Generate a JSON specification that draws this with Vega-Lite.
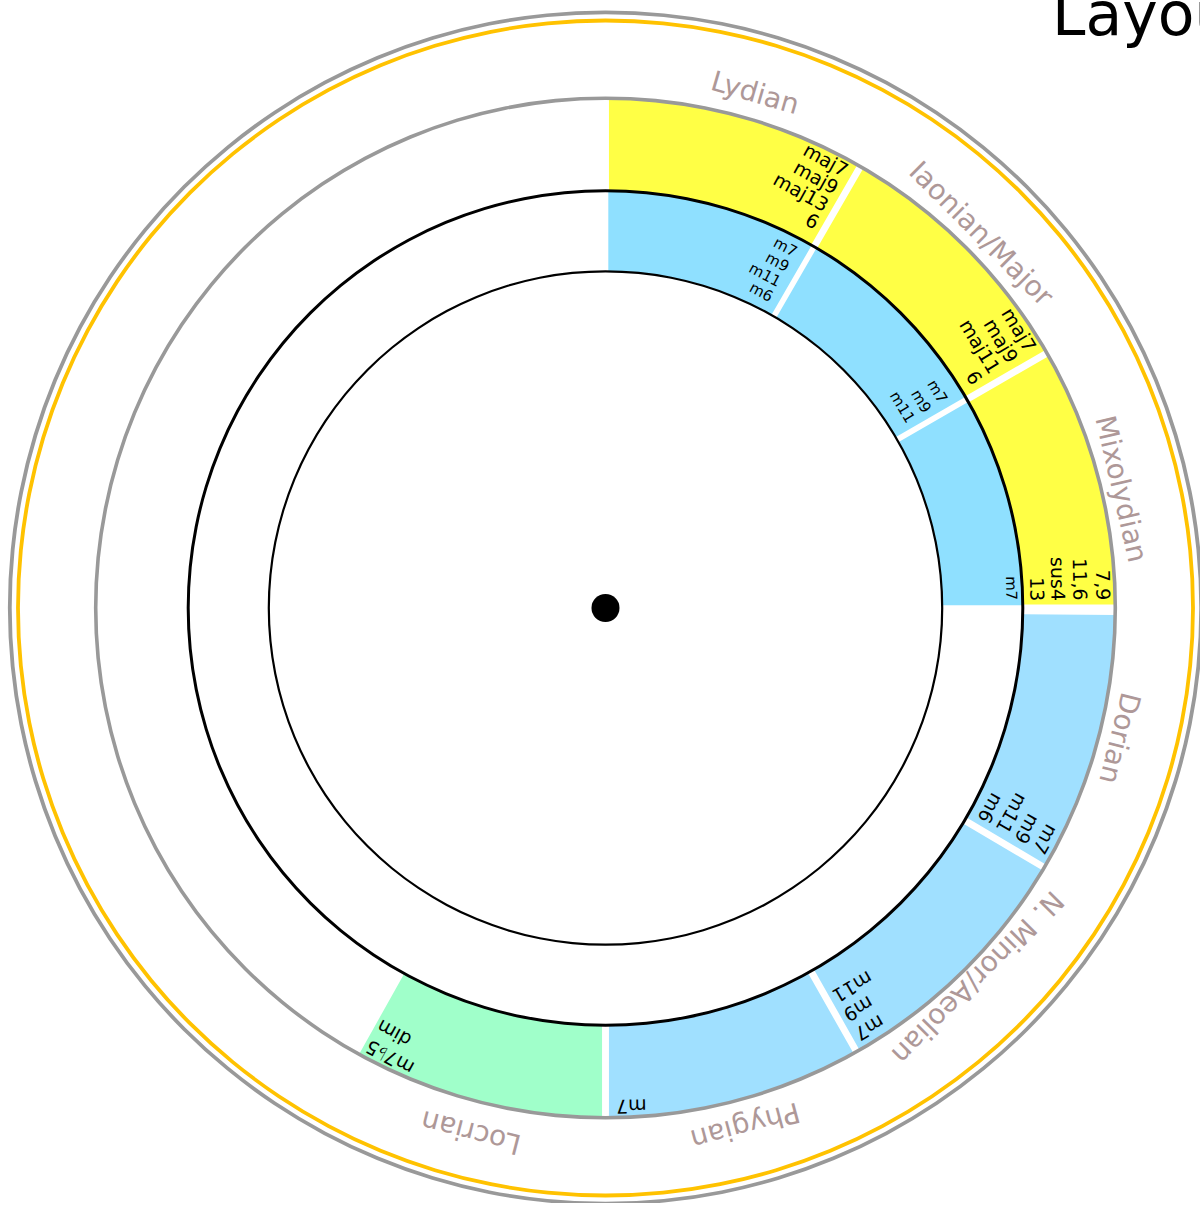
{
  "$schema": "https://vega.github.io/schema/vega-lite/v6.json",
  "width": 1191,
  "height": 1190,
  "autosize": "none",
  "padding": {"left": 10, "top": 13, "right": 0, "bottom": 0},
  "background": "white",
  "title": {
    "text": "Layout",
    "anchor": "start",
    "frame": "group",
    "orient": "top",
    "offset": 0,
    "dx": 1042,
    "dy": 84,
    "baseline": "alphabetic",
    "font": "DejaVu Sans",
    "fontSize": 60,
    "fontWeight": "normal",
    "color": "#000000"
  },
  "config": {"view": {"stroke": null}, "font": "DejaVu Sans"},
  "datasets": {
    "segments": [
      {"mode": "Lydian", "ring": "outer", "t0": 0, "t1": 30, "r0": 417, "r1": 510, "kind": "major"},
      {"mode": "Iaonian/Major", "ring": "outer", "t0": 30, "t1": 60, "r0": 417, "r1": 510, "kind": "major"},
      {"mode": "Mixolydian", "ring": "outer", "t0": 60, "t1": 90, "r0": 417, "r1": 510, "kind": "major"},
      {"mode": "Dorian", "ring": "outer", "t0": 90.4, "t1": 120.6, "r0": 417, "r1": 510, "kind": "minor"},
      {"mode": "N. Minor/Aeolian", "ring": "outer", "t0": 120.6, "t1": 150.5, "r0": 417, "r1": 510, "kind": "minor"},
      {"mode": "Phygian", "ring": "outer", "t0": 150.5, "t1": 180, "r0": 417, "r1": 510, "kind": "minor"},
      {"mode": "Locrian", "ring": "outer", "t0": 180, "t1": 209.3, "r0": 417, "r1": 510, "kind": "dim"},
      {"mode": "Lydian", "ring": "inner", "t0": 0, "t1": 30, "r0": 337, "r1": 417, "kind": "inner"},
      {"mode": "Iaonian/Major", "ring": "inner", "t0": 30, "t1": 60, "r0": 337, "r1": 417, "kind": "inner"},
      {"mode": "Mixolydian", "ring": "inner", "t0": 60, "t1": 90, "r0": 337, "r1": 417, "kind": "inner"}
    ],
    "rings": [
      {"name": "outer frame", "t0": 0, "t1": 360, "r0": 593.8, "r1": 597.4, "kind": "frame"},
      {"name": "accent", "t0": 0, "t1": 360, "r0": 585.6, "r1": 589.4, "kind": "accent"},
      {"name": "mode ring", "t0": 0, "t1": 360, "r0": 508, "r1": 511.6, "kind": "frame"},
      {"name": "middle", "t0": 0, "t1": 360, "r0": 415.8, "r1": 418.8, "kind": "line"},
      {"name": "inner", "t0": 0, "t1": 360, "r0": 335.6, "r1": 337.8, "kind": "line"},
      {"name": "hub", "t0": 0, "t1": 360, "r0": 0, "r1": 14, "kind": "line"}
    ],
    "chords": [
      {"mode": "Lydian", "ring": "outer", "label": "maj7", "theta": 28.9, "r": 498},
      {"mode": "Lydian", "ring": "outer", "label": "maj9", "theta": 28.9, "r": 478},
      {"mode": "Lydian", "ring": "outer", "label": "maj13", "theta": 28.9, "r": 458},
      {"mode": "Lydian", "ring": "outer", "label": "6", "theta": 28.9, "r": 438},
      {"mode": "Iaonian/Major", "ring": "outer", "label": "maj7", "theta": 58.8, "r": 497},
      {"mode": "Iaonian/Major", "ring": "outer", "label": "maj9", "theta": 58.8, "r": 476},
      {"mode": "Iaonian/Major", "ring": "outer", "label": "maj11", "theta": 58.8, "r": 455},
      {"mode": "Iaonian/Major", "ring": "outer", "label": "6", "theta": 58.8, "r": 434},
      {"mode": "Mixolydian", "ring": "outer", "label": "7,9", "theta": 89.1, "r": 497},
      {"mode": "Mixolydian", "ring": "outer", "label": "11,6", "theta": 89.1, "r": 474},
      {"mode": "Mixolydian", "ring": "outer", "label": "sus4", "theta": 89.1, "r": 452},
      {"mode": "Mixolydian", "ring": "outer", "label": "13", "theta": 89.1, "r": 431},
      {"mode": "Lydian", "ring": "inner", "label": "m7", "theta": 28.2, "r": 403},
      {"mode": "Lydian", "ring": "inner", "label": "m9", "theta": 28.2, "r": 386},
      {"mode": "Lydian", "ring": "inner", "label": "m11", "theta": 28.2, "r": 369},
      {"mode": "Lydian", "ring": "inner", "label": "m6", "theta": 28.2, "r": 352},
      {"mode": "Iaonian/Major", "ring": "inner", "label": "m7", "theta": 58.6, "r": 396},
      {"mode": "Iaonian/Major", "ring": "inner", "label": "m9", "theta": 58.6, "r": 377},
      {"mode": "Iaonian/Major", "ring": "inner", "label": "m11", "theta": 58.6, "r": 358},
      {"mode": "Mixolydian", "ring": "inner", "label": "m7", "theta": 88.9, "r": 406},
      {"mode": "Dorian", "ring": "outer", "label": "m7", "theta": 119.5, "r": 496},
      {"mode": "Dorian", "ring": "outer", "label": "m9", "theta": 119.5, "r": 475},
      {"mode": "Dorian", "ring": "outer", "label": "m11", "theta": 119.5, "r": 454},
      {"mode": "Dorian", "ring": "outer", "label": "m6", "theta": 119.5, "r": 433},
      {"mode": "N. Minor/Aeolian", "ring": "outer", "label": "m7", "theta": 149.6, "r": 495},
      {"mode": "N. Minor/Aeolian", "ring": "outer", "label": "m9", "theta": 149.6, "r": 473},
      {"mode": "N. Minor/Aeolian", "ring": "outer", "label": "m11", "theta": 149.6, "r": 451},
      {"mode": "Phygian", "ring": "outer", "label": "m7", "theta": 178.8, "r": 498},
      {"mode": "Locrian", "ring": "outer", "label": "m7♭5", "theta": 208.6, "r": 497},
      {"mode": "Locrian", "ring": "outer", "label": "dim", "theta": 208.6, "r": 474}
    ],
    "modes": [
      {"label": "Lydian", "theta": 16.2, "r": 535},
      {"label": "Iaonian/Major", "theta": 45.1, "r": 529},
      {"label": "Mixolydian", "theta": 77, "r": 528},
      {"label": "Dorian", "theta": 104.2, "r": 529},
      {"label": "N. Minor/Aeolian", "theta": 134.8, "r": 523},
      {"label": "Phygian", "theta": 164.9, "r": 535},
      {"label": "Locrian", "theta": 194.4, "r": 540}
    ]
  },
  "layer": [
    {
      "data": {"name": "segments"},
      "mark": {"type": "arc", "padAngle": 0.0105},
      "encoding": {
        "theta": {"field": "t0", "type": "quantitative", "stack": null, "scale": {"domain": [0, 360], "range": [0, 6.283185307179586]}},
        "theta2": {"field": "t1"},
        "radius": {"field": "r1", "type": "quantitative", "scale": {"type": "linear", "domain": [0, 595], "range": [0, 595], "zero": true, "nice": false}},
        "radius2": {"field": "r0"},
        "color": {"field": "kind", "type": "nominal", "legend": null, "scale": {"domain": ["major", "inner", "minor", "dim", "frame", "accent", "line"], "range": ["#ffff45", "#8fe0ff", "#a0e0ff", "#a0ffca", "#999999", "#ffc200", "#000000"]}}
      }
    },
    {
      "data": {"name": "rings"},
      "mark": {"type": "arc"},
      "encoding": {
        "theta": {"field": "t0", "type": "quantitative", "stack": null, "scale": {"domain": [0, 360], "range": [0, 6.283185307179586]}},
        "theta2": {"field": "t1"},
        "radius": {"field": "r1", "type": "quantitative", "scale": {"type": "linear", "domain": [0, 595], "range": [0, 595], "zero": true, "nice": false}},
        "radius2": {"field": "r0"},
        "color": {"field": "kind", "type": "nominal", "legend": null, "scale": {"domain": ["major", "inner", "minor", "dim", "frame", "accent", "line"], "range": ["#ffff45", "#8fe0ff", "#a0e0ff", "#a0ffca", "#999999", "#ffc200", "#000000"]}}
      }
    },
    {
      "data": {"name": "chords"},
      "mark": {"type": "text", "align": "right", "baseline": "middle", "font": "DejaVu Sans", "fill": "#000000"},
      "encoding": {
        "theta": {"field": "theta", "type": "quantitative", "stack": null, "scale": {"domain": [0, 360], "range": [0, 6.283185307179586]}},
        "radius": {"field": "r", "type": "quantitative", "scale": {"type": "linear", "domain": [0, 595], "range": [0, 595], "zero": true, "nice": false}},
        "text": {"field": "label"},
        "angle": {"field": "theta", "type": "quantitative", "scale": {"domain": [0, 360], "range": [0, 360]}},
        "size": {"field": "ring", "type": "ordinal", "legend": null, "scale": {"domain": ["outer", "inner"], "range": [19, 15]}}
      }
    },
    {
      "data": {"name": "modes"},
      "mark": {"type": "text", "align": "center", "baseline": "middle", "font": "DejaVu Sans", "fontSize": 28, "fill": "#ae9898"},
      "encoding": {
        "theta": {"field": "theta", "type": "quantitative", "stack": null, "scale": {"domain": [0, 360], "range": [0, 6.283185307179586]}},
        "radius": {"field": "r", "type": "quantitative", "scale": {"type": "linear", "domain": [0, 595], "range": [0, 595], "zero": true, "nice": false}},
        "text": {"field": "label"},
        "angle": {"field": "theta", "type": "quantitative", "scale": {"domain": [0, 360], "range": [0, 360]}}
      }
    }
  ]
}
